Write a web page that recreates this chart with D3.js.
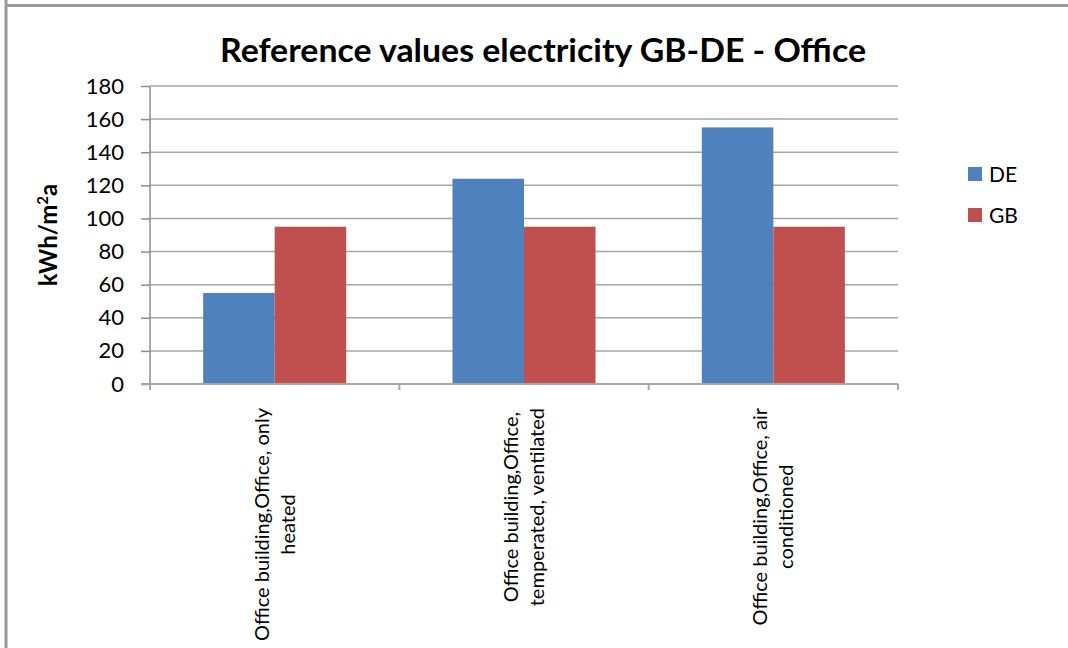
<!DOCTYPE html>
<html>
<head>
<meta charset="utf-8">
<script src="https://cdn.jsdelivr.net/npm/d3@7"></script>
<style>
  body { margin: 0; background: #fff; }
  svg { display: block; font-family: Lato, "Liberation Sans", sans-serif; }
</style>
</head>
<body>
<div id="chart-area"></div>
<script>
const categories = [
  ["Office building,Office, only", "heated"],
  ["Office building,Office,", "temperated, ventilated"],
  ["Office building,Office, air", "conditioned"]
];
const seriesNames = ["DE", "GB"];
const deValues = [55, 124, 155];
const gbValues = [95, 95, 95];
const yTicks = [0, 20, 40, 60, 80, 100, 120, 140, 160, 180];
const colors = { DE: "#4f81bd", GB: "#c0504d" };

const width = 1068;
const height = 648;
const plot = { LEFT: 150, RIGHT: 898, TOP: 86, BOTTOM: 384 };

const svg = d3.select("#chart-area").append("svg")
  .attr("width", width)
  .attr("height", height);

// outer frame (only top and left edges visible)
svg.append("line")
  .attr("x1", 6).attr("x2", 6).attr("y1", 0).attr("y2", height)
  .attr("stroke", "#9a9a9a").attr("stroke-width", 3);
svg.append("line")
  .attr("x1", 5).attr("x2", width).attr("y1", 5.5).attr("y2", 5.5)
  .attr("stroke", "#9a9a9a").attr("stroke-width", 3);

// Title
svg.append("text")
  .attr("x", 543)
  .attr("y", 62)
  .attr("text-anchor", "middle")
  .attr("font-size", "32px")
  .attr("font-weight", "bold")
  .attr("textLength", 646)
  .attr("lengthAdjust", "spacingAndGlyphs")
  .text("Reference values electricity GB-DE - Office");

// Scales
const rows = categories.map((c, i) => ({ key: i, label: c, DE: deValues[i], GB: gbValues[i] }));

const x0 = d3.scaleBand()
  .domain(rows.map(d => d.key))
  .range([plot.LEFT, plot.RIGHT])
  .padding(0);
const x1 = d3.scaleBand()
  .domain(seriesNames)
  .range([0, x0.bandwidth()])
  .paddingInner(0)
  .paddingOuter(0.743);
const y = d3.scaleLinear()
  .domain([0, 180])
  .range([plot.BOTTOM, plot.TOP]);

// Gridlines
svg.append("g")
  .selectAll("line")
  .data(yTicks.filter(d => d > 0))
  .enter().append("line")
  .attr("x1", plot.LEFT).attr("x2", plot.RIGHT)
  .attr("y1", d => y(d)).attr("y2", d => y(d))
  .attr("stroke", "#a6a6a6").attr("stroke-width", 1.5);

// Y axis
const yAxis = svg.append("g")
  .attr("transform", `translate(${plot.LEFT}, 0)`)
  .call(d3.axisLeft(y).tickValues(yTicks).tickSize(9).tickPadding(17));
yAxis.select(".domain").attr("stroke", "#8c8c8c").attr("stroke-width", 1.5)
  .attr("d", `M0,${plot.TOP}V${plot.BOTTOM + 6}`);
yAxis.selectAll(".tick line").attr("stroke", "#8c8c8c").attr("stroke-width", 1.5);
yAxis.selectAll(".tick text")
  .attr("font-family", "Lato, 'Liberation Sans', sans-serif")
  .attr("font-size", "22px")
  .attr("fill", "#000");

svg.append("text")
  .attr("transform", "translate(57, 235) rotate(-90)")
  .attr("text-anchor", "middle")
  .attr("font-size", "24px")
  .attr("font-weight", "bold")
  .html("kWh/m<tspan font-size='15px' dy='-9'>2</tspan><tspan dy='9'>a</tspan>");

// Bars
const groups = svg.append("g")
  .selectAll("g")
  .data(rows)
  .enter().append("g")
  .attr("transform", d => `translate(${x0(d.key)}, 0)`);

groups.selectAll("rect")
  .data(d => seriesNames.map(s => ({ series: s, value: d[s] })))
  .enter().append("rect")
  .attr("x", d => x1(d.series))
  .attr("width", x1.bandwidth())
  .attr("y", d => y(d.value))
  .attr("height", d => y(0) - y(d.value))
  .attr("fill", d => colors[d.series]);

// X axis
const xAxis = svg.append("g")
  .attr("transform", `translate(0, ${plot.BOTTOM})`);
xAxis.append("line")
  .attr("x1", plot.LEFT - 9).attr("x2", plot.RIGHT)
  .attr("stroke", "#a6a6a6").attr("stroke-width", 2);
xAxis.selectAll(".cat-tick")
  .data(rows)
  .enter().append("line")
  .attr("class", "cat-tick")
  .attr("x1", d => x0(d.key) + x0.bandwidth()).attr("x2", d => x0(d.key) + x0.bandwidth())
  .attr("y1", 0).attr("y2", 6)
  .attr("stroke", "#a6a6a6").attr("stroke-width", 2);

// Category labels, rotated, top-aligned under the axis
rows.forEach(d => {
  const cx = x0(d.key) + x0.bandwidth() / 2;
  const lab = svg.append("g")
    .attr("transform", `translate(${cx}, 408) rotate(-90)`);
  const lines = d.label.map((t, i) => lab.append("text")
    .attr("y", i === 0 ? -6 : 20)
    .attr("text-anchor", "middle")
    .attr("font-size", "20px")
    .attr("fill", "#000")
    .text(t));
  const w = d3.max(lines, l => l.node().getComputedTextLength());
  lines.forEach(l => l.attr("x", -w / 2));
});

// Legend
const legend = svg.append("g")
  .attr("transform", "translate(968, 167)");
seriesNames.forEach((s, i) => {
  const row = legend.append("g")
    .attr("transform", `translate(0, ${i * 41})`);
  row.append("rect")
    .attr("width", 14)
    .attr("height", 14)
    .attr("fill", colors[s]);
  row.append("text")
    .attr("x", 21)
    .attr("y", 15)
    .attr("font-size", "21px")
    .text(s);
});
</script>
</body>
</html>
